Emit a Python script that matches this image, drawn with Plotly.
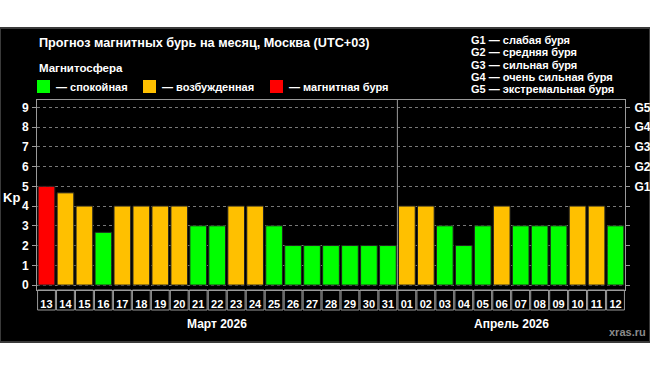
import plotly.graph_objects as go

march_days = [str(d) for d in range(13, 32)]
april_days = ["%02d" % d for d in range(1, 13)]
days = march_days + april_days
kp = [5, 4.67, 4, 2.67, 4, 4, 4, 4, 3, 3, 4, 4, 3, 2, 2, 2, 2, 2, 2,
      4, 4, 3, 2, 3, 4, 3, 3, 3, 4, 4, 3]
month_labels = ["Март 2026", "Апрель 2026"]
g_labels = ["G1", "G2", "G3", "G4", "G5"]
g_legend = ["G1 — слабая буря", "G2 — средняя буря", "G3 — сильная буря",
            "G4 — очень сильная буря", "G5 — экстремальная буря"]
state_labels = ["— спокойная", "— возбужденная", "— магнитная буря"]

GREEN, ORANGE, RED = "#00ff00", "#ffc000", "#ff0000"
FONT = "Liberation Sans, Arial, sans-serif"


def color_for(v):
    if v >= 5:
        return RED
    if v >= 4:
        return ORANGE
    return GREEN


W, H = 650, 371
L, R, T, B = 37, 25, 100, 81
PW, PH = W - L - R, H - T - B


def px(xp):
    return (xp - L) / PW


def py(yp):
    return (H - B - yp) / PH


fig = go.Figure()
fig.add_trace(go.Bar(
    x=days, y=kp, width=0.88,
    marker=dict(color=[color_for(v) for v in kp], line=dict(color="#222", width=1)),
    showlegend=False, hoverinfo="x+y",
))
# invisible trace for right axis
fig.add_trace(go.Scatter(x=[days[0]], y=[0], yaxis="y2", mode="markers",
                         marker=dict(opacity=0), showlegend=False, hoverinfo="skip"))

shapes = []
# black panel
shapes.append(dict(type="rect", xref="paper", yref="paper", x0=px(0), x1=px(W),
                   y0=py(342), y1=py(28), fillcolor="black",
                   line=dict(color="#3a3a3a", width=2), layer="below"))
# tick label boxes
for i in range(len(days)):
    shapes.append(dict(type="rect", xref="x", yref="paper", x0=i - 0.47, x1=i + 0.47,
                       y0=py(310), y1=py(290), line=dict(color="#9a9a9a", width=1)))
# month separator
n_mar = len(march_days)
shapes.append(dict(type="line", xref="x", yref="paper", x0=n_mar - 0.5, x1=n_mar - 0.5,
                   y0=0, y1=1, line=dict(color="#9a9a9a", width=1)))
# legend squares
sq = [(37, GREEN), (143, ORANGE), (270, RED)]
for (x0, c) in sq:
    shapes.append(dict(type="rect", xref="paper", yref="paper", x0=px(x0), x1=px(x0 + 13),
                       y0=py(93), y1=py(80), fillcolor=c, line=dict(width=0)))

ann = []
ann.append(dict(text="<b>Прогноз магнитных бурь на месяц, Москва (UTC+03)</b>",
                x=px(37), y=py(43), xref="paper", yref="paper", xanchor="left",
                yanchor="middle", showarrow=False, font=dict(size=12.7, color="white", family=FONT)))
ann.append(dict(text="<b>Магнитосфера</b>", x=px(37), y=py(68), xref="paper", yref="paper",
                xanchor="left", yanchor="middle", showarrow=False,
                font=dict(size=11.5, color="white", family=FONT)))
for (x0, c), t in zip(sq, state_labels):
    ann.append(dict(text="<b>" + t + "</b>", x=px(x0 + 17), y=py(87), xref="paper", yref="paper",
                    xanchor="left", yanchor="middle", showarrow=False,
                    font=dict(size=11, color="white", family=FONT)))
for k, t in enumerate(g_legend):
    ann.append(dict(text="<b>" + t + "</b>", x=px(469), y=py(40 + k * 12.3), xref="paper",
                    yref="paper", xanchor="left", yanchor="middle", showarrow=False,
                    font=dict(size=11, color="white", family=FONT)))
ann.append(dict(text="<b>Kp</b>", x=px(11), y=py(197), xref="paper", yref="paper",
                xanchor="center", yanchor="middle", showarrow=False,
                font=dict(size=13, color="white", family=FONT)))
centers = [(n_mar - 1) / 2, n_mar + (len(april_days) - 1) / 2]
for c, t in zip(centers, month_labels):
    ann.append(dict(text="<b>" + t + "</b>", x=c, y=py(324), xref="x", yref="paper",
                    xanchor="center", yanchor="middle", showarrow=False,
                    font=dict(size=12, color="white", family=FONT)))
ann.append(dict(text="<b>xras.ru</b>", x=px(648), y=py(332), xref="paper", yref="paper",
                xanchor="right", yanchor="middle", showarrow=False,
                font=dict(size=11, color="#8a8a8a", family=FONT)))

fig.update_layout(
    width=W, height=H, margin=dict(l=L, r=R, t=T, b=B, pad=0, autoexpand=False),
    paper_bgcolor="white", plot_bgcolor="black",
    shapes=shapes, annotations=ann, bargap=0.12,
    xaxis=dict(type="category", categoryorder="array", categoryarray=days,
               range=[-0.5, len(days) - 0.5], showgrid=False, zeroline=False,
               showline=True, mirror=True, linecolor="#9a9a9a", linewidth=1,
               ticks="", tickfont=dict(size=11, color="white", family=FONT, weight="bold"),
               ticklabelstandoff=4, fixedrange=True, automargin=False),
    yaxis=dict(range=[-0.25, 9.37], tickvals=list(range(10)), showgrid=True,
               gridcolor="#777", griddash="dot", gridwidth=1, zeroline=False,
               showline=True, linecolor="#9a9a9a", linewidth=1,
               ticks="outside", ticklen=4, tickcolor="#9a9a9a",
               tickfont=dict(size=12, color="white", family=FONT, weight="bold"),
               ticklabelstandoff=1, fixedrange=True, automargin=False),
    yaxis2=dict(range=[-0.25, 9.37], overlaying="y", side="right",
                tickvals=list(range(10)), ticktext=[""] * 5 + g_labels,
                showgrid=False, zeroline=False, showline=True, linecolor="#9a9a9a",
                linewidth=1, ticks="outside", ticklen=4, tickcolor="#9a9a9a",
                tickfont=dict(size=12, color="white", family=FONT, weight="bold"),
                ticklabelstandoff=2, fixedrange=True, automargin=False),
    showlegend=False,
)
fig.write_html("out.html", config={"displayModeBar": False},
               post_script="document.body.style.margin='0';document.body.style.overflow='hidden';")
